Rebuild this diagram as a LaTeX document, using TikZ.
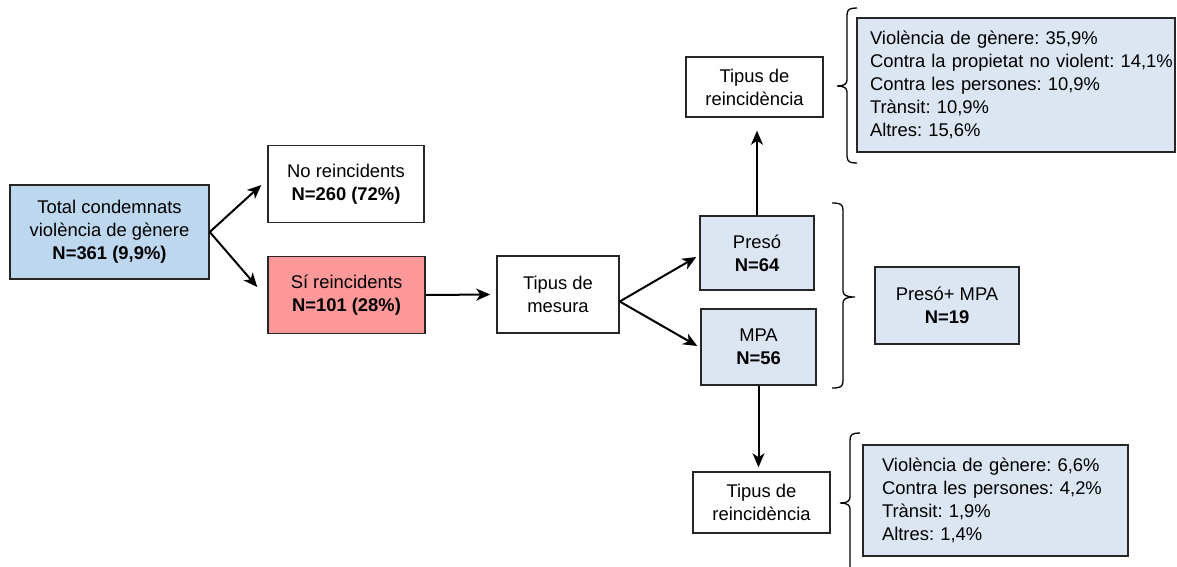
\documentclass[tikz,border=0pt]{standalone}
\usepackage{fontspec}
\setmainfont{Liberation Sans}
\usetikzlibrary{arrows.meta,calc}
\definecolor{totalblue}{RGB}{189,215,238}
\definecolor{sired}{RGB}{255,153,153}
\definecolor{lightblue}{RGB}{220,230,242}
\begin{document}
\frenchspacing
\begin{tikzpicture}[x=1pt,y=-1pt,
  box/.style={draw=black!85, line width=1.5pt, align=center, inner sep=0pt, font=\fontsize{18.4}{23}\selectfont\frenchspacing},
  arr/.style={-{Stealth[length=14pt,width=12pt,inset=4pt]}, line width=2pt},
  brc/.style={line width=1.3pt}]
\useasboundingbox (0,0) rectangle (1177,566);
\node[box, fill=totalblue, minimum width=199, minimum height=94] (tot) at (109.5,232) {Total condemnats\\violència de gènere\\\textbf{N=361 (9,9\%)}};
\node[box, minimum width=156, minimum height=77] (no) at (346,184) {No reincidents\\\textbf{N=260 (72\%)}};
\node[box, fill=sired, minimum width=157, minimum height=77] (si) at (346.5,295) {Sí reincidents\\\textbf{N=101 (28\%)}};
\node[box, minimum width=122, minimum height=77] (mes) at (558,294.5) {Tipus de\\mesura};
\node[box, fill=lightblue, minimum width=114, minimum height=74] (pre) at (757,253) {Presó\\\textbf{N=64}};
\node[box, fill=lightblue, minimum width=115, minimum height=76] (mpa) at (758.5,347) {MPA\\\textbf{N=56}};
\node[box, fill=lightblue, minimum width=144, minimum height=77] (pm) at (947,305.5) {Presó+ MPA\\\textbf{N=19}};
\node[box, minimum width=137, minimum height=60] (tr1) at (754.5,87) {Tipus de\\reincidència};
\node[box, minimum width=137, minimum height=61] (tr2) at (761.5,502.5) {Tipus de\\reincidència};
\node[box, fill=lightblue, align=left, text width=292, inner xsep=13, minimum height=134] (l1) at (1016,85) {Violència de gènere: 35,9\%\\\mbox{Contra la propietat no violent: 14,1\%}\\Contra les persones: 10,9\%\\Trànsit: 10,9\%\\Altres: 15,6\%};
\node[box, fill=lightblue, align=left, text width=227, inner xsep=19, minimum height=111] (l2) at (995.5,500.5) {Violència de gènere: 6,6\%\\Contra les persones: 4,2\%\\Trànsit: 1,9\%\\Altres: 1,4\%};
% connectors
\draw[arr] (tot.east) -- ($(no.west)+(-6,1)$);
\draw[arr] (tot.east) -- ($(si.west)+(-10,-8)$);
\draw[arr] (si.east) -- ($(mes.west)+(-6,0)$);
\coordinate (br) at ($(mes.east)+(0,7)$);
\draw[arr] (br) -- ($(pre.west)+(-3,4)$);
\draw[arr] (br) -- ($(mpa.west)+(-3,-1)$);
\draw[arr] (pre.north) -- ($(pre.north |- tr1.south)+(0,13)$);
\draw[arr] (mpa.south) -- ($(mpa.south |- tr2.north)+(0,-4)$);
% braces
\draw[brc] (857,8) .. controls (850,8) and (847,9) .. (847,15) -- (847,80) .. controls (847,84) and (844,86) .. (837,86) .. controls (844,86) and (847,88) .. (847,92) -- (847,156) .. controls (847,162) and (850,163) .. (857,163);
\draw[brc] (832,203) .. controls (840,203) and (843,204) .. (843,210) -- (843,291) .. controls (843,295) and (846,297) .. (855,297) .. controls (846,297) and (843,299) .. (843,303) -- (843,381) .. controls (843,387) and (840,388) .. (832,388);
\draw[brc] (860,433) .. controls (853,433) and (850,434) .. (850,440) -- (850,497) .. controls (850,501) and (847,503) .. (840,503) .. controls (847,503) and (850,505) .. (850,509) -- (850,570);
\end{tikzpicture}
\end{document}
